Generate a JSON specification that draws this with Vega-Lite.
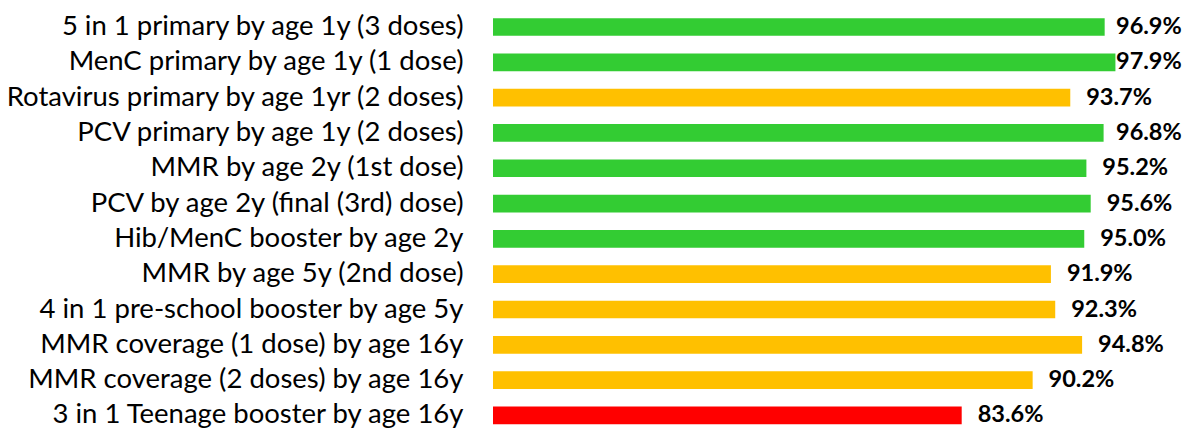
{
  "$schema": "https://vega.github.io/schema/vega-lite/v6.json",
  "autosize": "none",
  "width": 645,
  "height": 428,
  "padding": {"left": 493, "top": 0, "right": 52, "bottom": 0},
  "background": "white",
  "config": {"view": {"stroke": null}},
  "data": {"values": [
    {"label": "5 in 1 primary by age 1y (3 doses)", "value": 0.969, "status": "green"},
    {"label": "MenC primary by age 1y (1 dose)", "value": 0.979, "status": "green"},
    {"label": "Rotavirus primary by age 1yr (2 doses)", "value": 0.937, "status": "amber"},
    {"label": "PCV primary by age 1y (2 doses)", "value": 0.968, "status": "green"},
    {"label": "MMR by age 2y (1st dose)", "value": 0.952, "status": "green"},
    {"label": "PCV by age 2y (final (3rd) dose)", "value": 0.956, "status": "green"},
    {"label": "Hib/MenC booster by age 2y", "value": 0.950, "status": "green"},
    {"label": "MMR by age 5y (2nd dose)", "value": 0.919, "status": "amber"},
    {"label": "4 in 1 pre-school booster by age 5y", "value": 0.923, "status": "amber"},
    {"label": "MMR coverage (1 dose) by age 16y", "value": 0.948, "status": "amber"},
    {"label": "MMR coverage (2 doses) by age 16y", "value": 0.902, "status": "amber"},
    {"label": "3 in 1 Teenage booster by age 16y", "value": 0.836, "status": "red"}
  ]},
  "encoding": {
    "y": {
      "field": "label", "type": "nominal", "sort": null,
      "scale": {"paddingInner": 0.5, "paddingOuter": 0.31, "align": 0.83},
      "axis": {"title": null, "ticks": false, "domain": false, "labelPadding": 30,
               "labelFont": "Lato", "labelFontSize": 27.5, "labelColor": "#000000", "labelLimit": 0}
    }
  },
  "layer": [
    {
      "mark": {"type": "bar"},
      "encoding": {
        "x": {"field": "value", "type": "quantitative",
              "scale": {"domain": [0.4, 1], "nice": false, "zero": false},
              "axis": null},
        "x2": {"datum": 0.4},
        "color": {"field": "status", "type": "nominal",
                  "scale": {"domain": ["green", "amber", "red"], "range": ["#33CC33", "#FFC000", "#FF0000"]},
                  "legend": null}
      }
    },
    {
      "mark": {"type": "text", "align": "left", "baseline": "middle",
               "font": "Lato", "fontSize": 23.5, "fontWeight": "bold", "color": "#000000"},
      "encoding": {
        "x": {"field": "value", "type": "quantitative",
              "scale": {"domain": [0.4, 0.9647], "range": [16, 623], "clamp": true, "nice": false, "zero": false},
              "axis": null},
        "text": {"field": "value", "type": "quantitative", "format": ".1%"}
      }
    }
  ],
  "resolve": {"scale": {"x": "independent"}}
}
